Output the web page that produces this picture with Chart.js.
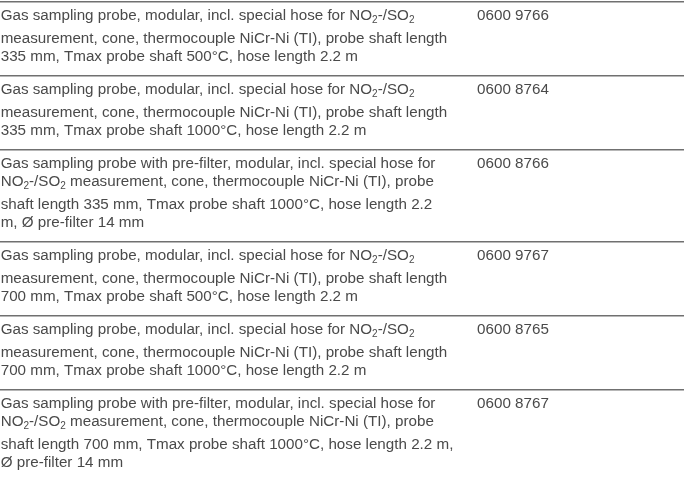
<!DOCTYPE html>
<html>
<head>
<meta charset="utf-8">
<title>Gas sampling probes</title>
<script src="https://cdn.jsdelivr.net/npm/chart.js@4.4.1/dist/chart.umd.min.js"></script>
<style>
  html, body { margin: 0; padding: 0; background: #fff; }
  #wrap { width: 684px; height: 491px; }
</style>
</head>
<body>
<div id="wrap"><canvas id="probeTable"></canvas></div>
<script>
// Table content. An underscore marks a subscript digit (NO_2 -> NO₂)
const orderNumbers = ['0600 9766', '0600 8764', '0600 8766', '0600 9767', '0600 8765', '0600 8767'];

const descriptions = [
    [
        'Gas sampling probe, modular, incl. special hose for NO_2-/SO_2',
        'measurement, cone, thermocouple NiCr-Ni (TI), probe shaft length',
        '335 mm, Tmax probe shaft 500°C, hose length 2.2 m'
    ],
    [
        'Gas sampling probe, modular, incl. special hose for NO_2-/SO_2',
        'measurement, cone, thermocouple NiCr-Ni (TI), probe shaft length',
        '335 mm, Tmax probe shaft 1000°C, hose length 2.2 m'
    ],
    [
        'Gas sampling probe with pre-filter, modular, incl. special hose for',
        'NO_2-/SO_2 measurement, cone, thermocouple NiCr-Ni (TI), probe',
        'shaft length 335 mm, Tmax probe shaft 1000°C, hose length 2.2',
        'm, Ø pre-filter 14 mm'
    ],
    [
        'Gas sampling probe, modular, incl. special hose for NO_2-/SO_2',
        'measurement, cone, thermocouple NiCr-Ni (TI), probe shaft length',
        '700 mm, Tmax probe shaft 500°C, hose length 2.2 m'
    ],
    [
        'Gas sampling probe, modular, incl. special hose for NO_2-/SO_2',
        'measurement, cone, thermocouple NiCr-Ni (TI), probe shaft length',
        '700 mm, Tmax probe shaft 1000°C, hose length 2.2 m'
    ],
    [
        'Gas sampling probe with pre-filter, modular, incl. special hose for',
        'NO_2-/SO_2 measurement, cone, thermocouple NiCr-Ni (TI), probe',
        'shaft length 700 mm, Tmax probe shaft 1000°C, hose length 2.2 m,',
        'Ø pre-filter 14 mm'
    ]
];

// Vertical layout in "line" units (1 = one text line)
const FIRST_LINE = 0.75;   // row top -> first line centre
const AFTER_LAST = 1.08;   // last line centre -> next row
const SUB_EXTRA = 0.28;    // extra gap below a line with subscripts
// Column starts on a 0..100 x scale
const DESC_COL = 0.1;
const ORDER_COL = 69.75;

const FONT_FAMILY = '"Liberation Sans", Arial, sans-serif';
const FONT_SIZE = 15.2;
const TEXT_COLOR = '#4a4a4a';

function hasSub(line) {
    return line.indexOf('_') !== -1;
}

// row boundaries on the y scale
const rowStarts = [];
let totalUnits = 0;
descriptions.forEach(lines => {
    rowStarts.push(totalUnits);
    const subs = lines.filter(hasSub).length;
    totalUnits += FIRST_LINE + (lines.length - 1) + subs * SUB_EXTRA + AFTER_LAST;
});

// draw a line of text, with _N parts as subscripts
function drawRich(ctx, text, x, y) {
    const parts = text.split(/(_\d)/);
    let cx = x;
    parts.forEach(part => {
        if (!part) return;
        if (part[0] === '_') {
            ctx.font = (FONT_SIZE * 0.66) + 'px ' + FONT_FAMILY;
            ctx.fillText(part.slice(1), cx, y + 4.5);
            cx += ctx.measureText(part.slice(1)).width;
        } else {
            ctx.font = FONT_SIZE + 'px ' + FONT_FAMILY;
            ctx.fillText(part, cx, y);
            cx += ctx.measureText(part).width;
        }
    });
}

const cellText = {
    id: 'cellText',
    afterDraw(chart) {
        const ctx = chart.ctx;
        const x = chart.scales.x;
        const y = chart.scales.y;
        ctx.save();
        ctx.fillStyle = TEXT_COLOR;
        ctx.textBaseline = 'middle';
        ctx.textAlign = 'left';
        descriptions.forEach((lines, r) => {
            let v = rowStarts[r] + FIRST_LINE;
            lines.forEach((line, k) => {
                const py = y.getPixelForValue(v);
                drawRich(ctx, line, x.getPixelForValue(DESC_COL), py);
                if (k === 0) {
                    drawRich(ctx, orderNumbers[r], x.getPixelForValue(ORDER_COL), py);
                }
                v += 1 + (hasSub(line) ? SUB_EXTRA : 0);
            });
        });
        ctx.restore();
    }
};

document.addEventListener('DOMContentLoaded', function() {
    const ctx = document.getElementById('probeTable').getContext('2d');
    new Chart(ctx, {
        type: 'scatter',
        data: { datasets: [] },
        options: {
            responsive: true,
            maintainAspectRatio: false,
            animation: false,
            layout: { padding: { top: 2, bottom: 9, left: 0, right: 0 } },
            plugins: {
                legend: { display: false },
                tooltip: { enabled: false }
            },
            scales: {
                x: {
                    type: 'linear',
                    min: 0,
                    max: 100,
                    display: false
                },
                y: {
                    type: 'linear',
                    min: 0,
                    max: totalUnits,
                    reverse: true,
                    afterBuildTicks: scale => {
                        // one rule above every row, none below the last
                        scale.ticks = rowStarts.map(v => ({ value: v }));
                    },
                    ticks: { display: false },
                    border: { display: false },
                    grid: {
                        color: '#707070',
                        lineWidth: 1.5,
                        drawTicks: false
                    }
                }
            }
        },
        plugins: [cellText]
    });
});
</script>
</body>
</html>
